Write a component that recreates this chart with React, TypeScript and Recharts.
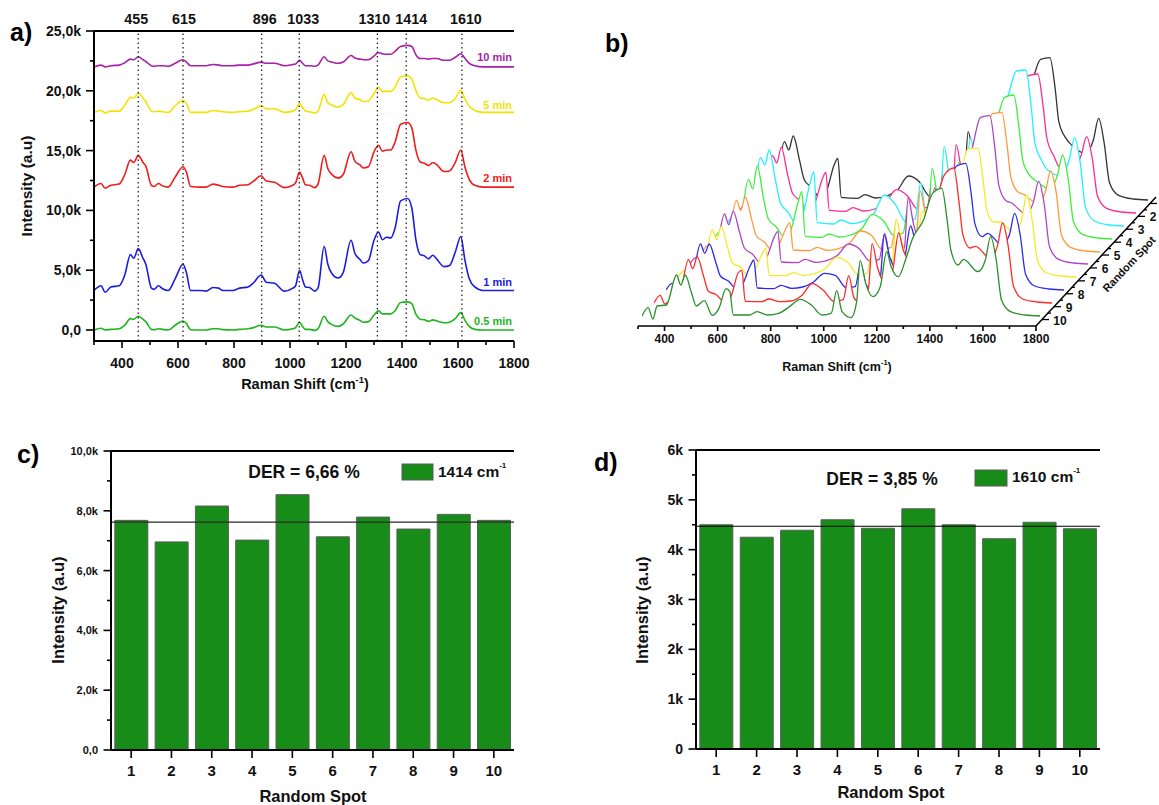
import React from "react"
import { Area, AreaChart, Bar, BarChart, Line, LineChart, ReferenceDot, ReferenceLine, XAxis, YAxis } from "recharts"

const FONT = "'Liberation Sans', Arial, sans-serif"

// panel a) Raman shift grid and intensities in thousands
const shiftA = [
  300, 325, 340, 360, 390, 410, 430, 442, 458, 475, 485, 505, 515, 530, 545, 565, 590, 618, 630, 645,
  680, 700, 725, 745, 760, 795, 820, 850, 870, 897,
  915, 945, 980, 1010, 1020, 1034, 1045, 1055, 1070, 1088,
  1100, 1122, 1135, 1150, 1172, 1190, 1218, 1232, 1250, 1262,
  1280, 1300, 1316, 1330, 1345, 1360, 1375, 1395, 1420, 1435,
  1450, 1465, 1480, 1495, 1510, 1525, 1550, 1570, 1590, 1610,
  1625, 1640, 1660, 1690, 1800,
]
const min05 = [
  0, 0.15, 0, 0.05, 0.1, 0.4, 0.95, 0.9, 1.15, 0.9, 0.7, 0.05, 0.02, 0.1, 0.05, 0, 0.4, 0.75, 0.55, 0.02,
  0, 0, 0.1, 0.1, 0.03, 0, 0.05, 0.1, 0.2, 0.4,
  0.25, 0.25, 0, 0.1, 0.2, 0.65, 0.3, 0.05, 0.05, -0.03,
  0.1, 1.15, 0.7, 0.45, 0.3, 0.5, 1.25, 1.0, 0.8, 0.65,
  0.7, 1.25, 1.6, 1.35, 1.35, 1.35, 1.6, 2.3, 2.35, 2.2,
  1.3, 0.9, 0.85, 0.72, 0.85, 0.75, 0.6, 0.65, 0.95, 1.45,
  0.8, 0.3, 0.05, 0, 0,
]
const min1 = [
  3.3, 3.7, 3.15, 3.6, 3.7, 4.6, 6.3, 6.0, 6.8, 6.0, 5.5, 3.5, 3.4, 3.7, 3.45, 3.3, 4.3, 5.5, 4.8, 3.3,
  3.3, 3.25, 3.55, 3.5, 3.3, 3.3, 3.5, 3.6, 3.95, 4.6,
  4.0, 3.9, 3.25, 3.5, 3.7, 5.0, 4.2, 3.6, 3.55, 3.25,
  3.5, 7.0, 5.5, 4.7, 4.35, 4.8, 7.5, 6.4, 5.9, 5.6,
  5.8, 7.5, 8.2, 7.55, 7.75, 7.7, 8.5, 10.8, 11.0, 10.2,
  7.5, 6.3, 6.2, 5.95, 6.25, 5.9, 5.3, 5.4, 6.5, 7.8,
  5.8, 4.3, 3.6, 3.3, 3.3,
]
const min2 = [
  11.95, 12.25, 11.85, 12.1, 12.2, 13.0, 14.2, 14.0, 14.6, 14.0, 13.7, 12.1, 12.0, 12.25, 12.05, 11.95, 12.8, 13.65, 13.2, 12.0,
  11.95, 11.95, 12.2, 12.1, 12.0, 11.95, 12.1, 12.15, 12.45, 12.9,
  12.45, 12.35, 11.9, 12.1, 12.3, 13.2, 12.7, 12.15, 12.1, 11.9,
  12.2, 14.6, 13.5, 13.0, 12.7, 13.0, 14.9, 14.1, 13.8, 13.55,
  13.65, 14.9, 15.45, 14.95, 15.05, 15.05, 15.7, 17.2, 17.35, 16.9,
  15.0, 14.05, 13.95, 13.75, 14.0, 13.8, 13.25, 13.3, 14.0, 15.05,
  13.6, 12.6, 12.1, 11.95, 11.95,
]
const min5 = [
  18.2, 18.35, 18.15, 18.3, 18.3, 18.8, 19.45, 19.4, 19.8, 19.4, 19.1, 18.3, 18.25, 18.3, 18.25, 18.2, 18.75, 19.2, 18.95, 18.2,
  18.2, 18.2, 18.35, 18.3, 18.25, 18.2, 18.25, 18.3, 18.45, 18.75,
  18.5, 18.5, 18.2, 18.3, 18.45, 18.95, 18.6, 18.3, 18.25, 18.15,
  18.3, 19.7, 19.0, 18.8, 18.65, 18.85, 19.85, 19.4, 19.25, 19.1,
  19.15, 19.8, 20.3, 19.95, 19.95, 19.95, 20.3, 21.15, 21.25, 20.95,
  20.0, 19.4, 19.35, 19.2, 19.4, 19.25, 19.0, 19.0, 19.35, 20.05,
  19.3, 18.7, 18.35, 18.2, 18.2,
]
const min10 = [
  22.0, 22.15, 22.0, 22.1, 22.15, 22.35, 22.65, 22.6, 22.85, 22.6, 22.45, 22.1, 22.05, 22.1, 22.1, 22.05, 22.3, 22.6, 22.4, 22.1,
  22.1, 22.1, 22.2, 22.15, 22.1, 22.1, 22.15, 22.15, 22.25, 22.4,
  22.3, 22.3, 22.1, 22.2, 22.25, 22.55, 22.3, 22.1, 22.1, 22.05,
  22.15, 22.85, 22.5, 22.4, 22.3, 22.4, 22.95, 22.75, 22.65, 22.6,
  22.6, 22.9, 23.2, 23.1, 23.05, 23.05, 23.3, 23.7, 23.8, 23.7,
  23.0, 22.7, 22.7, 22.65, 22.7, 22.7, 22.55, 22.55, 22.8, 23.1,
  22.7, 22.3, 22.1, 22.0, 22.0,
]
const curves = [
  { name: "0.5 min", values: min05, color: "#1fb51f", labelAt: 0.73 },
  { name: "1 min", values: min1, color: "#1c1ce0", labelAt: 4.0 },
  { name: "2 min", values: min2, color: "#f01c1c", labelAt: 12.7 },
  { name: "5 min", values: min5, color: "#f4e200", labelAt: 18.8 },
  { name: "10 min", values: min10, color: "#a81fa8", labelAt: 22.8 },
]
const peakLines = [458, 618, 899, 1033, 1312, 1415, 1614]
const peakLabels = ["455", "615", "896", "1033", "1310", "1414", "1610"]
const peakLabelShift = [-2, 1, 3, 4, -3, 5, 4]

const rowsA = shiftA.map((shift, i) => {
  const row: Record<string, number> = { shift }
  curves.forEach((c) => { row[c.name] = c.values[i] })
  return row
})

// panel b) waterfall, one list per random spot on one shift grid
const shiftB = [
  300, 323, 341, 357, 392, 430, 446, 463, 487, 505, 535, 565, 590, 617, 631, 644, 706, 733, 774, 815,
  856, 897, 938, 979, 1013, 1034, 1054, 1088, 1109, 1122, 1143, 1170, 1198, 1222, 1239, 1266, 1293, 1320,
  1361, 1395, 1430, 1450, 1464, 1491, 1512, 1566, 1594, 1614, 1635, 1655, 1689, 1744, 1800,
]
const spot1 = [0, 24, 0, 11, 25, 175, 150, 192, 118, 60, 36, 5, 30, 105, 125, 8, 5, 16, 6, 12, 30, 72, 55, 10, 18, 108, 20, -3, 60, 205, 125, 72, 108, 235, 180, 140, 195, 280, 350, 422, 427, 335, 235, 185, 165, 140, 180, 245, 170, 52, 14, 3, 0]
const spot2 = [0, 22, 0, 10, 24, 172, 150, 197, 115, 60, 36, 5, 30, 100, 122, 8, 5, 16, 6, 12, 30, 70, 52, 10, 18, 105, 20, -3, 58, 205, 125, 72, 105, 230, 175, 138, 190, 270, 340, 412, 417, 320, 225, 170, 137, 130, 175, 229, 165, 50, 14, 3, 0]
const spot3 = [0, 26, 0, 12, 28, 205, 183, 228, 135, 70, 40, 6, 35, 130, 163, 10, 6, 18, 7, 14, 36, 93, 65, 12, 22, 130, 24, -3, 70, 238, 140, 80, 115, 263, 200, 150, 210, 300, 385, 465, 468, 360, 250, 195, 168, 150, 200, 265, 190, 56, 15, 3, 0]
const spot4 = [0, 22, 0, 10, 24, 179, 150, 219, 120, 60, 36, 5, 28, 110, 142, 8, 5, 15, 6, 12, 30, 74, 55, 10, 18, 110, 20, -3, 60, 212, 125, 72, 105, 229, 180, 140, 190, 270, 340, 425, 432, 330, 235, 190, 175, 150, 190, 252, 180, 52, 14, 3, 0]
const spot5 = [0, 20, 0, 10, 20, 155, 125, 165, 98, 48, 30, 4, 22, 72, 88, 6, 4, 14, 5, 10, 26, 63, 50, 8, 14, 90, 16, -3, 52, 183, 112, 64, 96, 200, 160, 128, 180, 255, 330, 415, 418, 320, 225, 180, 173, 145, 180, 243, 178, 50, 14, 3, 0]
const spot6 = [0, 20, 0, 9, 18, 150, 118, 158, 95, 48, 30, 4, 22, 80, 98, 6, 4, 14, 5, 10, 26, 60, 46, 8, 14, 92, 16, -3, 52, 198, 118, 66, 100, 228, 170, 130, 185, 265, 340, 440, 445, 340, 235, 190, 183, 150, 185, 248, 180, 52, 14, 3, 0]
const spot7 = [0, 18, 0, 8, 16, 141, 112, 151, 88, 42, 30, 4, 22, 70, 86, 5, 4, 13, 5, 10, 26, 59, 45, 8, 12, 85, 14, -3, 48, 174, 105, 62, 92, 199, 155, 122, 172, 240, 300, 386, 386, 290, 200, 165, 165, 135, 168, 246, 170, 50, 12, 3, 0]
const spot8 = [0, 20, -2, 8, 14, 138, 110, 138, 85, 42, 27, 4, 20, 72, 90, 6, 4, 14, 5, 9, 24, 50, 44, 7, 10, 78, 15, -4, 45, 165, 100, 60, 90, 192, 150, 125, 175, 245, 295, 372, 380, 290, 200, 160, 170, 135, 165, 230, 165, 48, 12, 3, 0]
const spot9 = [0, 23, -3, 6, 12, 130, 103, 138, 80, 35, 25, 3, 20, 90, 98, 5, 4, 12, 4, 6, 22, 58, 38, 5, 10, 82, 15, -3, 48, 178, 105, 60, 92, 210, 160, 128, 180, 250, 300, 385, 405, 300, 205, 165, 170, 135, 170, 240, 170, 50, 12, 3, 0]
const spot10 = [0, 25, -9, 30, 33, 123, 93, 123, 68, 30, 46, 2, 23, 82, 73, 3, 3, 13, 3, 8, 28, 50, 33, 3, 8, 76, 13, -5, 43, 166, 98, 58, 88, 193, 148, 118, 168, 233, 288, 368, 383, 288, 198, 153, 170, 133, 168, 238, 168, 48, 13, 3, 0]
const spotTraces = [spot1, spot2, spot3, spot4, spot5, spot6, spot7, spot8, spot9, spot10]
const spotColors = ["#333333", "#ff2a90", "#22f0ff", "#3cf03c", "#ff9a3c", "#b044c4", "#f6ea24", "#2a2af0", "#ff2a2a", "#2b8f2b"]
const depthTicks = [0.5, 1, 1.5, 2, 2.5, 3, 3.5, 4, 4.5, 5, 5.5, 6, 6.5, 7, 7.5, 8, 8.5, 9, 9.5, 10, 10.5]

// panels c) and d)
const spots = ["1", "2", "3", "4", "5", "6", "7", "8", "9", "10"]
const band1414 = [7.68, 6.96, 8.16, 7.02, 8.54, 7.13, 7.79, 7.39, 7.88, 7.68]
const band1610 = [4.5, 4.25, 4.39, 4.6, 4.43, 4.82, 4.5, 4.22, 4.55, 4.42]
const mean1414 = 7.62
const mean1610 = 4.47

const BAR_FILL = "#188c18"
const BAR_EDGE = "#5c5c5c"

const bottomTick = (isMajor: (v: any) => boolean, fmt: (v: any) => string, fontSize: number, major: number, minor: number, labelDy: number) =>
  (p: any) => {
    const v = p.payload.value
    const big = isMajor(v)
    return (
      <g key={v}>
        <line x1={p.x} x2={p.x} y1={p.y} y2={p.y + (big ? major : minor)} stroke="#000" strokeWidth={1.6} />
        {big && (
          <text x={p.x} y={p.y + labelDy} textAnchor="middle" dominantBaseline="central" fontSize={fontSize} fontWeight="bold" fill="#111">
            {fmt(v)}
          </text>
        )}
      </g>
    )
  }

const leftTick = (isMajor: (v: number) => boolean, fmt: (v: number) => string, fontSize: number, major: number, minor: number) =>
  (p: any) => {
    const v = p.payload.value
    const big = isMajor(v)
    return (
      <g key={v}>
        <line x1={p.x} x2={p.x - (big ? major : minor)} y1={p.y} y2={p.y} stroke="#000" strokeWidth={1.6} />
        {big && (
          <text x={p.x - 13} y={p.y} textAnchor="end" dominantBaseline="central" fontSize={fontSize} fontWeight="bold" fill="#111">
            {fmt(v)}
          </text>
        )}
      </g>
    )
  }

const commaK = (v: number) => (v === 0 ? "0,0" : `${v.toFixed(1).replace(".", ",")}k`)
const even = (step: number) => (v: number) => v % step === 0
const AXIS = { stroke: "#000", strokeWidth: 2 }

function PanelTitle({ x, y, children }: any) {
  return (
    <text x={x} y={y} dominantBaseline="central" fontSize={25} fontWeight="bold" fill="#000">
      {children}
    </text>
  )
}

function RamanTitle({ x, y, fontSize }: any) {
  return (
    <text x={x} y={y} textAnchor="middle" dominantBaseline="central" fontSize={fontSize} fontWeight="bold" fill="#111">
      Raman Shift (cm
      <tspan dy={-5} fontSize={fontSize - 5}>-1</tspan>
      <tspan dy={5}>)</tspan>
    </text>
  )
}

function RotatedTitle({ x, y, fontSize }: any) {
  return (
    <text x={x} y={y} transform={`rotate(-90 ${x} ${y})`} textAnchor="middle" dominantBaseline="central" fontSize={fontSize} fontWeight="bold" fill="#111">
      Intensity (a.u)
    </text>
  )
}

function RamanPanel() {
  return (
    <LineChart width={540} height={400} data={rowsA} margin={{ top: 31, right: 26, left: 0, bottom: 0 }}>
      <XAxis
        dataKey="shift"
        type="number"
        domain={[300, 1800]}
        ticks={[300, 400, 500, 600, 700, 800, 900, 1000, 1100, 1200, 1300, 1400, 1500, 1600, 1700, 1800]}
        interval={0}
        height={59}
        axisLine={AXIS}
        tickLine={false}
        tickSize={0}
        tickMargin={0}
        tick={bottomTick(even(200), String, 14, 7, 4, 22)}
      />
      <YAxis
        type="number"
        domain={[-0.92, 25]}
        ticks={[0, 2.5, 5, 7.5, 10, 12.5, 15, 17.5, 20, 22.5, 25]}
        interval={0}
        width={94}
        axisLine={AXIS}
        tickLine={false}
        tickSize={0}
        tickMargin={0}
        tick={leftTick(even(5), commaK, 14, 8, 4)}
      />
      <YAxis yAxisId="frame" orientation="right" width={0} domain={[-0.92, 25]} axisLine={AXIS} tick={false} tickLine={false} />
      <ReferenceLine y={25} stroke="#000" strokeWidth={2} />
      {curves.map((c) => (
        <Line key={c.name} dataKey={c.name} type="monotone" stroke={c.color} strokeWidth={1.6} dot={false} isAnimationActive={false} />
      ))}
      {peakLines.map((x, i) => (
        <ReferenceLine
          key={x}
          x={x}
          stroke="#111"
          strokeWidth={1.2}
          strokeDasharray="1.5 3"
          label={{ value: peakLabels[i], position: "top", offset: 7, dx: peakLabelShift[i], fontSize: 14.3, fontWeight: "bold", fill: "#111" }}
        />
      ))}
      {curves.map((c) => (
        <ReferenceDot
          key={c.name}
          x={1800}
          y={c.labelAt}
          r={0}
          stroke="none"
          label={{ value: c.name, position: "left", offset: 2, fontSize: 11, fontWeight: "bold", fill: c.color }}
        />
      ))}
      <PanelTitle x={10} y={32}>a)</PanelTitle>
      <RotatedTitle x={26} y={186} fontSize={15.5} />
      <RamanTitle x={305} y={384} fontSize={14.5} />
    </LineChart>
  )
}

// back spots first, so each nearer trace hides what lies behind it
function SpotLayer({ index }: { index: number }) {
  const fromFront = spotTraces.length - 1 - index
  const data = shiftB.map((shift, i) => ({ shift, height: spotTraces[index][i] }))
  return (
    <div style={{ position: "absolute", left: 642 + fromFront * 11.97, top: 116 - fromFront * 12.89 }}>
      <AreaChart width={398} height={210} data={data} margin={{ top: 0, right: 0, left: 0, bottom: 0 }}>
        <XAxis dataKey="shift" type="number" domain={[300, 1800]} hide />
        <YAxis type="number" domain={[-30, 600]} hide />
        <Area
          dataKey="height"
          type="monotone"
          baseValue={0}
          stroke={spotColors[index]}
          strokeWidth={1.3}
          fill="#fff"
          fillOpacity={1}
          isAnimationActive={false}
        />
      </AreaChart>
    </div>
  )
}

const DepthDot = (p: any) => {
  const spot = p.payload.spot
  const whole = Number.isInteger(spot)
  return (
    <g key={spot}>
      {spot !== 0.5 && spot !== 10.5 && (
        <line x1={p.cx} x2={p.cx + (whole ? 7 : 3)} y1={p.cy} y2={p.cy} stroke="#000" strokeWidth={1.3} />
      )}
      {whole && spot > 1 && (
        <text x={p.cx + (spot === 10 ? 18 : 15)} y={p.cy + 1} textAnchor="middle" dominantBaseline="central" fontSize={12} fontWeight="bold" fill="#111">
          {spot}
        </text>
      )}
    </g>
  )
}

function WaterfallPanel() {
  return (
    <>
      {spotTraces.map((_, i) => <SpotLayer key={i} index={i} />)}
      <div style={{ position: "absolute", left: 620, top: 300 }}>
        <LineChart width={440} height={80} data={rowsA} margin={{ top: 16, right: 24, left: 18, bottom: 0 }}>
          <XAxis
            dataKey="shift"
            type="number"
            domain={[300, 1800]}
            ticks={[300, 400, 500, 600, 700, 800, 900, 1000, 1100, 1200, 1300, 1400, 1500, 1600, 1700, 1800]}
            interval={0}
            height={54}
            axisLine={{ stroke: "#000", strokeWidth: 1.5 }}
            tickLine={false}
            tickSize={0}
            tickMargin={0}
            tick={bottomTick(even(200), String, 12, 5, 3, 13)}
          />
          <YAxis hide domain={[0, 1]} />
        </LineChart>
      </div>
      <div style={{ position: "absolute", left: 1000, top: 180 }}>
        <LineChart
          width={159}
          height={170}
          data={depthTicks.map((spot) => ({ spot }))}
          margin={{ top: 17, right: 3, left: 36, bottom: 24 }}
        >
          <XAxis dataKey="spot" type="number" domain={[0.5, 10.5]} reversed hide />
          <YAxis type="number" domain={[0.5, 10.5]} reversed hide />
          <Line dataKey="spot" type="linear" stroke="#000" strokeWidth={1.5} dot={DepthDot} isAnimationActive={false} />
          <text x={129} y={84} transform="rotate(-47 129 84)" textAnchor="middle" dominantBaseline="central" fontSize={11} fontWeight="bold" fill="#111">
            Random Spot
          </text>
        </LineChart>
      </div>
      <div style={{ position: "absolute", left: 590, top: 20, width: 560, height: 370, pointerEvents: "none" }}>
        <svg width={560} height={370}>
          <PanelTitle x={15} y={23}>b)</PanelTitle>
          <RamanTitle x={247} y={347} fontSize={12.5} />
        </svg>
      </div>
    </>
  )
}

function SpotBars({ values, mean, yMax, yTicks, fmt, major, tickFont, width, left, right, top, xHeight, lineStroke, children }: any) {
  const data = spots.map((spot, i) => ({ spot, value: values[i] }))
  return (
    <BarChart width={width} height={375} data={data} barCategoryGap="9.5%" margin={{ top, right, left: 0, bottom: 0 }}>
      <XAxis
        dataKey="spot"
        interval={0}
        height={xHeight}
        axisLine={AXIS}
        tickLine={false}
        tickSize={0}
        tickMargin={0}
        tick={bottomTick(() => true, String, 15, 8, 8, 20)}
      />
      <YAxis
        type="number"
        domain={[0, yMax]}
        ticks={yTicks}
        interval={0}
        width={left}
        axisLine={AXIS}
        tickLine={false}
        tickSize={0}
        tickMargin={0}
        tick={leftTick(major, fmt, tickFont, 7.5, 4)}
      />
      <YAxis yAxisId="frame" orientation="right" width={0} domain={[0, yMax]} axisLine={AXIS} tick={false} tickLine={false} />
      <Bar dataKey="value" fill={BAR_FILL} stroke={BAR_EDGE} strokeWidth={1} isAnimationActive={false} />
      <ReferenceLine y={yMax} stroke="#000" strokeWidth={2} />
      <ReferenceLine y={mean} stroke={lineStroke} strokeWidth={1.2} />
      {children}
    </BarChart>
  )
}

function Wavenumber({ x, y, label }: any) {
  return (
    <text x={x} y={y} dominantBaseline="central" fontSize={15.5} fontWeight="bold" fill="#111">
      {label} cm<tspan dy={-6} fontSize={8}>-1</tspan>
    </text>
  )
}

export default function App() {
  return (
    <div style={{ position: "absolute", left: 0, top: 0, width: 1159, height: 805, overflow: "hidden", background: "#fff", fontFamily: FONT }}>
      <div style={{ position: "absolute", left: 0, top: 0 }}>
        <RamanPanel />
      </div>
      <WaterfallPanel />
      <div style={{ position: "absolute", left: 0, top: 430 }}>
        <SpotBars
          values={band1414}
          mean={mean1414}
          yMax={10}
          yTicks={[0, 1, 2, 3, 4, 5, 6, 7, 8, 9, 10]}
          fmt={commaK}
          major={even(2)}
          tickFont={11}
          width={540}
          left={111}
          right={26}
          top={21}
          xHeight={55}
          lineStroke="#2a2a2a"
        >
          <PanelTitle x={17} y={24}>c)</PanelTitle>
          <RotatedTitle x={58} y={180} fontSize={16.5} />
          <text x={313} y={366} textAnchor="middle" dominantBaseline="central" fontSize={16.5} fontWeight="bold" fill="#111">Random Spot</text>
          <text x={304} y={42} textAnchor="middle" dominantBaseline="central" fontSize={17.5} fontWeight="bold" fill="#111">DER = 6,66 %</text>
          <rect x={402} y={34} width={31} height={16} fill={BAR_FILL} stroke={BAR_EDGE} />
          <Wavenumber x={438} y={41} label="1414" />
        </SpotBars>
      </div>
      <div style={{ position: "absolute", left: 580, top: 430 }}>
        <SpotBars
          values={band1610}
          mean={mean1610}
          yMax={6}
          yTicks={[0, 0.5, 1, 1.5, 2, 2.5, 3, 3.5, 4, 4.5, 5, 5.5, 6]}
          fmt={(v: number) => (v === 0 ? "0" : `${v}k`)}
          major={even(1)}
          tickFont={14}
          width={540}
          left={116}
          right={20}
          top={20}
          xHeight={56}
          lineStroke="#000"
        >
          <PanelTitle x={14} y={32}>d)</PanelTitle>
          <RotatedTitle x={62} y={180} fontSize={16.5} />
          <text x={311} y={362} textAnchor="middle" dominantBaseline="central" fontSize={16.5} fontWeight="bold" fill="#111">Random Spot</text>
          <text x={302} y={49} textAnchor="middle" dominantBaseline="central" fontSize={17.5} fontWeight="bold" fill="#111">DER = 3,85 %</text>
          <rect x={395} y={40} width={32} height={16} fill={BAR_FILL} stroke={BAR_EDGE} />
          <Wavenumber x={432} y={46} label="1610" />
        </SpotBars>
      </div>
    </div>
  )
}
